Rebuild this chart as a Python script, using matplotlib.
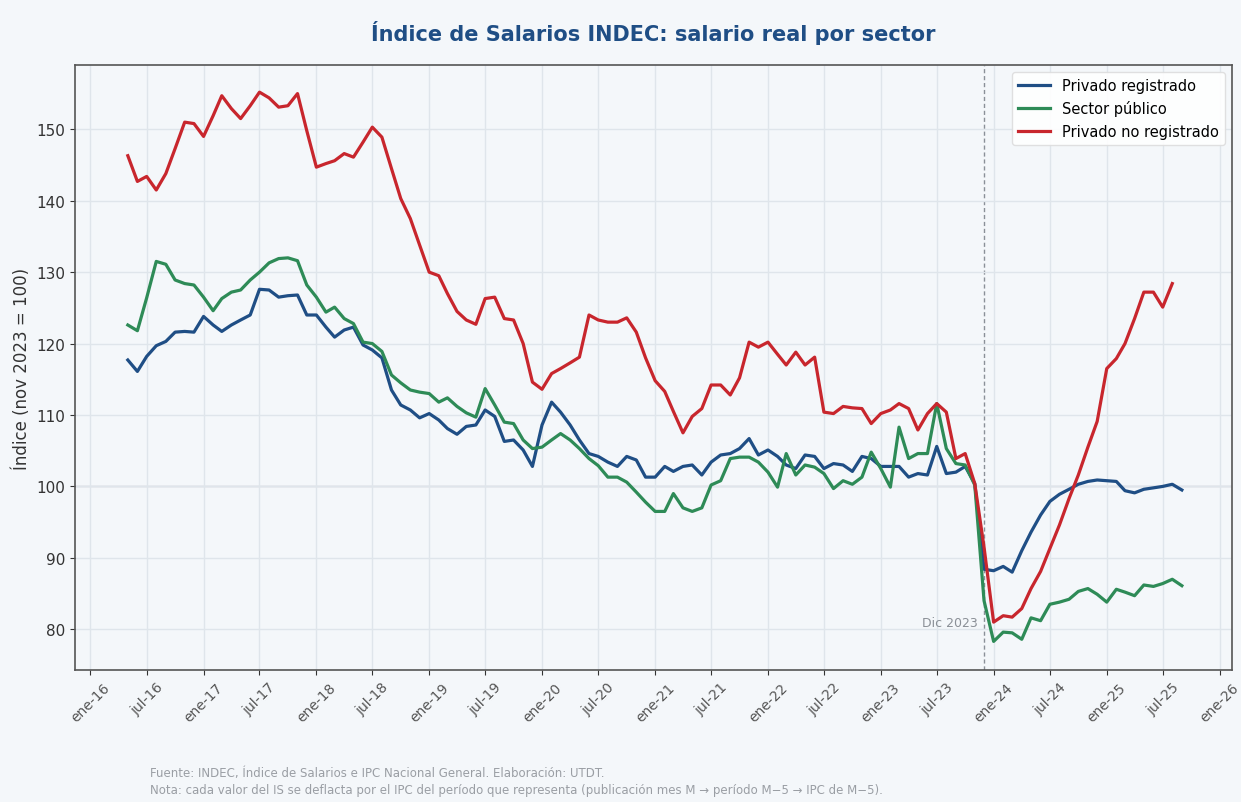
import matplotlib
matplotlib.use("Agg")
import matplotlib.pyplot as plt
import matplotlib.dates as mdates
import pandas as pd

# monthly series, may-2016 onwards (nov 2023 = 100)
privado_registrado = [
    117.7, 116.1, 118.2, 119.7, 120.3, 121.6, 121.7, 121.6, 123.8, 122.6,
    121.7, 122.6, 123.3, 124.0, 127.6, 127.5, 126.5, 126.7, 126.8, 124.0,
    124.0, 122.3, 120.9, 121.9, 122.3, 119.8, 119.1, 118.0, 113.5, 111.4,
    110.7, 109.6, 110.2, 109.3, 108.1, 107.3, 108.4, 108.6, 110.7, 109.8,
    106.3, 106.5, 105.1, 102.8, 108.6, 111.8, 110.4, 108.6, 106.5, 104.6,
    104.2, 103.4, 102.8, 104.2, 103.7, 101.3, 101.3, 102.8, 102.1, 102.8,
    103.0, 101.6, 103.4, 104.4, 104.6, 105.3, 106.7, 104.4, 105.1, 104.2,
    103.0, 102.5, 104.4, 104.2, 102.5, 103.2, 103.0, 102.1, 104.2, 103.9,
    102.8, 102.8, 102.8, 101.3, 101.8, 101.6, 105.6, 101.8, 102.0, 102.8,
    100.4, 88.4, 88.2, 88.8, 88.0, 91.0, 93.6, 96.0, 97.9, 98.9,
    99.6, 100.3, 100.7, 100.9, 100.8, 100.7, 99.4, 99.1, 99.6, 99.8,
    100.0, 100.3, 99.5,
]
sector_publico = [
    122.6, 121.8, 126.4, 131.5, 131.1, 128.9, 128.4, 128.2, 126.5, 124.6,
    126.3, 127.2, 127.5, 128.9, 130.0, 131.3, 131.9, 132.0, 131.6, 128.2,
    126.5, 124.4, 125.1, 123.5, 122.8, 120.2, 120.0, 118.9, 115.6, 114.5,
    113.5, 113.2, 113.0, 111.8, 112.4, 111.2, 110.3, 109.7, 113.7, 111.4,
    109.0, 108.8, 106.5, 105.3, 105.5, 106.5, 107.4, 106.5, 105.3, 103.9,
    102.9, 101.3, 101.3, 100.6, 99.2, 97.8, 96.5, 96.5, 99.0, 97.0,
    96.5, 97.0, 100.2, 100.8, 103.9, 104.1, 104.1, 103.4, 102.0, 99.9,
    104.6, 101.6, 103.0, 102.7, 101.8, 99.7, 100.8, 100.3, 101.3, 104.8,
    102.5, 99.9, 108.3, 103.9, 104.6, 104.6, 111.6, 105.3, 103.2, 103.0,
    100.2, 84.0, 78.3, 79.6, 79.5, 78.6, 81.6, 81.2, 83.5, 83.8,
    84.2, 85.3, 85.7, 84.9, 83.8, 85.6, 85.2, 84.7, 86.2, 86.0,
    86.4, 87.0, 86.1,
]
privado_no_registrado = [
    146.3, 142.7, 143.4, 141.5, 143.8, 147.3, 151.0, 150.8, 149.0, 151.9,
    154.7, 152.9, 151.5, 153.3, 155.2, 154.4, 153.1, 153.3, 155.0, 149.8,
    144.7, 145.2, 145.6, 146.6, 146.1, 148.2, 150.3, 148.9, 144.5, 140.3,
    137.5, 133.8, 130.0, 129.5, 127.0, 124.5, 123.3, 122.7, 126.3, 126.5,
    123.5, 123.3, 120.0, 114.6, 113.6, 115.8, 116.5, 117.3, 118.1, 124.0,
    123.3, 123.0, 123.0, 123.6, 121.6, 118.0, 114.8, 113.3, 110.5, 107.5,
    109.8, 110.9, 114.2, 114.2, 112.8, 115.2, 120.2, 119.5, 120.2, 118.5,
    117.0, 118.8, 117.0, 118.1, 110.4, 110.2, 111.2, 111.0, 110.9, 108.8,
    110.2, 110.7, 111.6, 110.9, 107.9, 110.2, 111.6, 110.4, 103.9, 104.6,
    100.4, 91.5, 81.0, 81.9, 81.7, 82.9, 85.7, 88.1, 91.3, 94.6,
    98.3, 101.6, 105.5, 109.1, 116.5, 117.9, 120.0, 123.5, 127.2, 127.2,
    125.1, 128.4,
]

fechas = pd.date_range("2016-05-01", periods=len(privado_registrado), freq="MS")
fechas_nr = fechas[:len(privado_no_registrado)]

meses = {1: "ene", 7: "jul"}

bg = "#f4f7fa"
fig = plt.figure(figsize=(12.41, 8.03), dpi=100, facecolor=bg)
ax = fig.add_axes([0.0604, 0.1644, 0.9323, 0.7534], facecolor=bg)

ax.grid(True, color="#dfe5eb", linewidth=1.0, zorder=0)
ax.axhline(100, color="#b8bec6", linewidth=1.0, zorder=1)
ax.axvline(pd.Timestamp("2023-12-01"), color="#8a9098", linestyle=(0, (3, 2)),
           linewidth=1.0, zorder=1)

ax.plot(fechas, privado_registrado, color="#1f4e85", linewidth=2.3, label="Privado registrado", zorder=3)
ax.plot(fechas, sector_publico, color="#2e8b57", linewidth=2.3, label="Sector público", zorder=3)
ax.plot(fechas_nr, privado_no_registrado, color="#c8262d", linewidth=2.3, label="Privado no registrado", zorder=3)

ax.text(pd.Timestamp("2023-11-10"), 80.9, "Dic 2023", ha="right", va="center",
        fontsize=9, color="#8a8f96")

ax.set_xlim(pd.Timestamp("2015-11-12"), pd.Timestamp("2026-02-10"))
ax.set_ylim(74.3, 159.0)
ax.set_yticks([80, 90, 100, 110, 120, 130, 140, 150])

ax.xaxis.set_major_locator(mdates.MonthLocator(bymonth=(1, 7)))
ax.xaxis.set_major_formatter(plt.FuncFormatter(
    lambda v, pos: "%s-%s" % (meses[mdates.num2date(v).month], mdates.num2date(v).strftime("%y"))))
plt.setp(ax.get_xticklabels(), rotation=45, ha="center")
ax.tick_params(axis="x", labelsize=10, colors="#333333", labelcolor="#555555")
ax.tick_params(axis="y", labelsize=11, colors="#333333", labelcolor="#333333")

for s in ax.spines.values():
    s.set_color("#555555")
    s.set_linewidth(1.2)

ax.set_ylabel("Índice (nov 2023 = 100)", fontsize=12, color="#333333")
ax.set_title("Índice de Salarios INDEC: salario real por sector", fontsize=15,
             fontweight="bold", color="#1f4e85", pad=18)

leg = ax.legend(loc="upper right", fontsize=10.5, frameon=True, framealpha=0.9,
                edgecolor="#dddddd", handlelength=2.2)

fig.text(0.121, 0.033, "Fuente: INDEC, Índice de Salarios e IPC Nacional General. Elaboración: UTDT.",
         fontsize=8.5, color="#9a9ea4")
fig.text(0.121, 0.011, "Nota: cada valor del IS se deflacta por el IPC del período que representa "
         "(publicación mes M → período M−5 → IPC de M−5).", fontsize=8.5, color="#9a9ea4")

fig.savefig("out.png", dpi=100, facecolor=bg)
